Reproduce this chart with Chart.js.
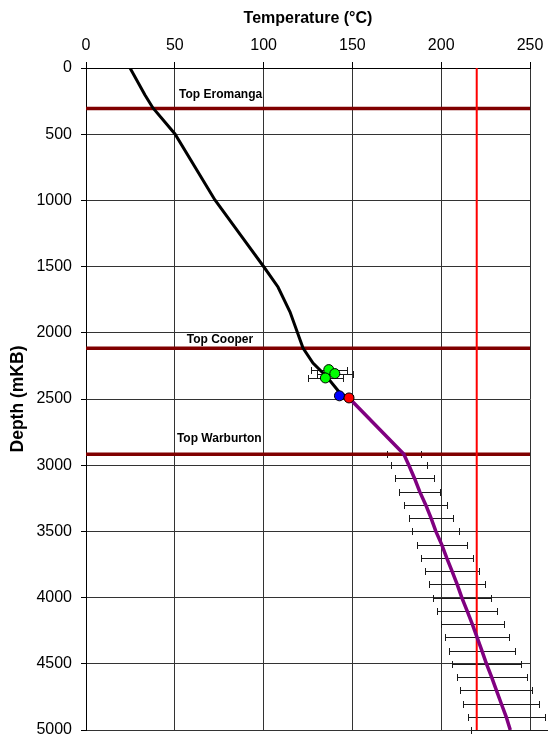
<!DOCTYPE html>
<html>
<head>
<meta charset="utf-8">
<script src="https://cdn.jsdelivr.net/npm/chart.js@4.4.1/dist/chart.umd.min.js"></script>
<style>
  html, body { margin: 0; padding: 0; background: #fff; }
</style>
</head>
<body>
<canvas id="tempChart" width="548" height="738"></canvas>
<script>
// axis ticks
const tempTicks = [0, 50, 100, 150, 200, 250];
const depthTicks = [0, 500, 1000, 1500, 2000, 2500, 3000, 3500, 4000, 4500, 5000];

// measured temperature profile (black)
const gradTemp  = [24.8, 33.2, 37.7, 50.1, 72.6, 87.8, 100.2, 108.1, 114.9, 122.2, 127.8, 135.7, 143.0, 148.1];
const gradDepth = [0, 204, 302, 498, 997, 1276, 1503, 1654, 1843, 2115, 2228, 2334, 2455, 2492];

// extrapolated trend below the reservoir (purple), +/- uncertainty in °C
const modelTemp  = [148.1, 178.9, 181.8, 185.0, 187.9, 191.3, 194.3, 197.0, 200.3, 203.1, 206.1, 209.0,
                    211.6, 214.6, 217.5, 220.2, 222.9, 225.5, 228.4, 231.1, 233.8, 236.6, 238.9];
const modelDepth = [2492, 2915, 3000, 3100, 3200, 3300, 3400, 3500, 3600, 3700, 3800, 3900,
                    4000, 4100, 4200, 4300, 4400, 4500, 4600, 4700, 4800, 4900, 5000];
const modelErr   = [0, 9.6, 10.1, 11.0, 11.7, 12.1, 12.6, 13.3, 14.1, 14.6, 15.2, 15.9,
                    16.4, 17.0, 17.6, 18.1, 18.5, 19.4, 19.7, 20.3, 21.4, 21.7, 22.3];

// individual measurements
const greenTemp = [136.7, 140.1, 134.8];
const greenDepth = [2278, 2308, 2341];
const greenErr = [10, 10, 10];
const blueTemp = [142.7];
const blueDepth = [2476];
const redTemp = [148.1];
const redDepth = [2492];
const redErr = [2.3];

// formation tops
const horizonNames = ['Top Eromanga', 'Top Cooper', 'Top Warburton'];
const horizonDepth = [305, 2117, 2917];
const horizonLabelTemp = [52.4, 56.7, 51.2];
const horizonLabelDepth = [204, 2054, 2797];

// temperature limit line
const limitTemp = 220;

const toPoints = (xs, ys) => xs.map((v, i) => ({ x: v, y: ys[i] }));

Chart.defaults.font.family = '"Liberation Sans", Arial, sans-serif';
Chart.defaults.color = '#000';

const errorBars = {
  id: 'errorBars',
  beforeDatasetsDraw(chart) {
    const { ctx, scales: { x, y } } = chart;
    ctx.save();
    ctx.strokeStyle = '#1a1a1a';
    ctx.lineWidth = 1;
    chart.data.datasets.forEach(ds => {
      if (!ds.errors) return;
      ds.data.forEach((p, i) => {
        const e = ds.errors[i];
        if (!e) return;
        const yp = Math.round(y.getPixelForValue(p.y)) + 0.5;
        const x1 = Math.round(x.getPixelForValue(p.x - e)) + 0.5;
        const x2 = Math.round(x.getPixelForValue(p.x + e)) + 0.5;
        ctx.beginPath();
        ctx.moveTo(x1, yp); ctx.lineTo(x2, yp);
        ctx.moveTo(x1, yp - 3.5); ctx.lineTo(x1, yp + 3.5);
        ctx.moveTo(x2, yp - 3.5); ctx.lineTo(x2, yp + 3.5);
        ctx.stroke();
      });
    });
    ctx.restore();
  }
};

const horizonLabels = {
  id: 'horizonLabels',
  afterDatasetsDraw(chart) {
    const { ctx, scales: { x, y } } = chart;
    ctx.save();
    ctx.font = 'bold 12px "Liberation Sans", Arial, sans-serif';
    ctx.fillStyle = '#000';
    ctx.textAlign = 'left';
    ctx.textBaseline = 'middle';
    horizonNames.forEach((name, i) => {
      ctx.fillText(name, x.getPixelForValue(horizonLabelTemp[i]), y.getPixelForValue(horizonLabelDepth[i]));
    });
    ctx.restore();
  }
};

const datasets = [
  { label: 'red', data: toPoints(redTemp, redDepth), errors: redErr,
    backgroundColor: '#ff0000', borderColor: '#000', borderWidth: 1, pointRadius: 5 },
  { label: 'blue', data: toPoints(blueTemp, blueDepth),
    backgroundColor: '#0000ff', borderColor: '#000', borderWidth: 1, pointRadius: 5 },
  { label: 'green', data: toPoints(greenTemp, greenDepth), errors: greenErr,
    backgroundColor: '#00ff00', borderColor: '#000', borderWidth: 1, pointRadius: 5 },
  { label: 'profile', data: toPoints(gradTemp, gradDepth), showLine: true,
    borderColor: '#000', borderWidth: 3, pointRadius: 0 },
  { label: 'trend', data: toPoints(modelTemp, modelDepth), errors: modelErr, showLine: true,
    borderColor: '#800080', borderWidth: 3.5, pointRadius: 0 },
  { label: 'limit', data: [{ x: limitTemp, y: 0 }, { x: limitTemp, y: 5000 }], showLine: true,
    borderColor: '#ff0000', borderWidth: 2, pointRadius: 0 }
];
horizonDepth.forEach((d, i) => {
  datasets.push({ label: horizonNames[i], data: [{ x: 0, y: d }, { x: 250, y: d }], showLine: true,
    borderColor: '#800000', borderWidth: 3.5, pointRadius: 0 });
});

new Chart(document.getElementById('tempChart'), {
  type: 'scatter',
  data: { datasets },
  options: {
    responsive: false,
    animation: false,
    layout: { padding: { top: 0, left: 0, right: 18, bottom: 8 } },
    plugins: { legend: { display: false }, tooltip: { enabled: false } },
    scales: {
      x: {
        type: 'linear', position: 'top', min: 0, max: 250,
        afterBuildTicks: s => { s.ticks = tempTicks.map(v => ({ value: v })); },
        afterFit: s => { s.height = 68; s.paddingLeft = 0; s.paddingRight = 0; },
        ticks: { font: { size: 16 }, padding: 7, maxRotation: 0, color: '#000',
                 callback: v => String(v) },
        grid: { color: '#333', lineWidth: 1, tickLength: 6, tickColor: '#000' },
        border: { color: '#000', width: 1 },
        title: { display: true, text: 'Temperature (°C)', font: { size: 16, weight: 'bold' },
                 color: '#000', padding: { top: 9, bottom: 0 } }
      },
      y: {
        type: 'linear', reverse: true, min: 0, max: 5000,
        afterBuildTicks: s => { s.ticks = depthTicks.map(v => ({ value: v })); },
        afterFit: s => { s.width = 86; s.paddingTop = 0; s.paddingBottom = 0; },
        ticks: { font: { size: 16 }, padding: 9, color: '#000',
                 callback: v => String(v) },
        grid: { color: '#333', lineWidth: 1, tickLength: 5, tickColor: '#000' },
        border: { color: '#000', width: 1 },
        title: { display: true, text: 'Depth (mKB)', font: { size: 17.5, weight: 'bold' },
                 color: '#000', padding: { top: 8, bottom: 0 } }
      }
    }
  },
  plugins: [errorBars, horizonLabels]
});
</script>
</body>
</html>
